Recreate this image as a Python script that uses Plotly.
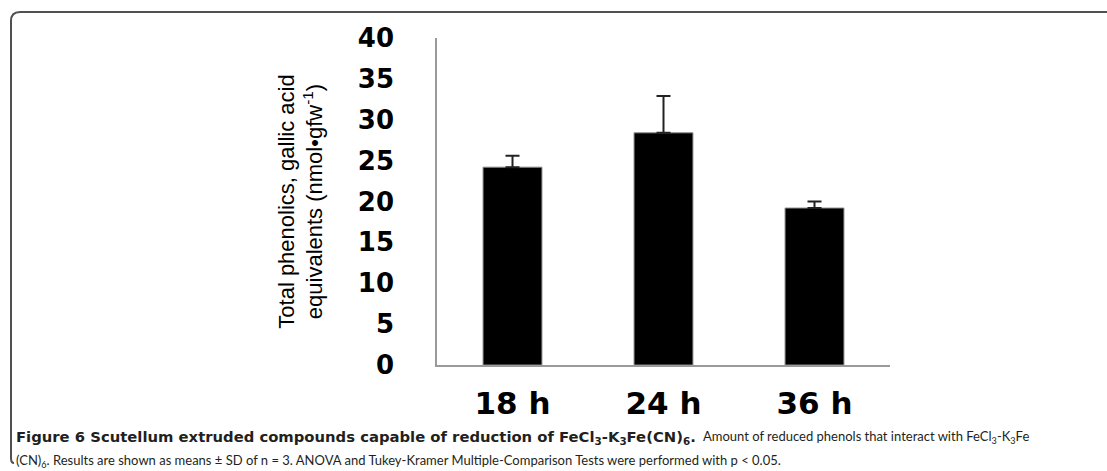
import plotly.graph_objects as go

# Total phenolics (gallic acid equivalents) at each extrusion time
times = ["18 h", "24 h", "36 h"]
phenolics = [24.2, 28.4, 19.2]
sd = [1.4, 4.5, 0.8]

W, H = 1107, 471
L, R, T, B = 437, 890, 38, 365  # plot area in pixels


def px(x):
    return (x - L) / (R - L)


def py(y):
    return (B - y) / (B - T)


fig = go.Figure(
    go.Bar(
        x=times,
        y=phenolics,
        width=0.39,
        marker=dict(color="black", line=dict(color="#8a8a8a", width=1)),
        error_y=dict(type="data", array=sd, symmetric=False, arrayminus=[0, 0, 0],
                     color="#222", thickness=2, width=7),
    )
)

# rounded figure frame on the left, open to the right
r = 9
frame = (
    f"M {px(1200)} {py(12)} L {px(11 + r)} {py(12)} "
    f"Q {px(11)} {py(12)} {px(11)} {py(12 + r)} "
    f"L {px(11)} {py(458)} Q {px(11)} {py(463)} {px(14)} {py(463)}"
)
fig.add_shape(type="path", path=frame, xref="paper", yref="paper",
              line=dict(color="#505050", width=2))

# caption: bold heading followed by regular text
bold_font = dict(family="DejaVu Sans", size=14.8, color="#231f20", weight="bold")
reg_font = dict(family="Lato, Open Sans, sans-serif", size=13, color="#231f20")


def caption(x, y, text, font):
    fig.add_annotation(x=px(x), y=py(y), xref="paper", yref="paper",
                       xanchor="left", yanchor="middle", showarrow=False,
                       align="left", font=font, text=text)


caption(14, 437, "Figure 6 Scutellum extruded compounds capable of reduction of "
                 "FeCl<sub>3</sub>-K<sub>3</sub>Fe(CN)<sub>6</sub>.", bold_font)
caption(701, 437, "Amount of reduced phenols that interact with "
                  "FeCl<sub>3</sub>-K<sub>3</sub>Fe", reg_font)
caption(14, 461, "(CN)<sub>6</sub>. Results are shown as means ± SD of n = 3. ANOVA and "
                 "Tukey-Kramer Multiple-Comparison Tests were performed with p &lt; 0.05.",
        reg_font)

fig.update_layout(
    width=W, height=H,
    margin=dict(l=L, r=W - R, t=T, b=H - B),
    paper_bgcolor="white", plot_bgcolor="white",
    showlegend=False,
    bargap=0.61,
)
fig.update_xaxes(
    showline=True, linecolor="#9a9a9a", linewidth=1.5, ticks="",
    ticklabelstandoff=10,
    tickfont=dict(family="DejaVu Sans", size=31, color="black", weight="bold"),
)
fig.update_yaxes(
    range=[0, 40], dtick=5, showgrid=False, zeroline=False,
    showline=True, linecolor="#9a9a9a", linewidth=1.5, ticks="",
    ticklabelstandoff=36,
    tickfont=dict(family="DejaVu Sans", size=26, color="black", weight="bold"),
    title=dict(
        text="Total phenolics, gallic acid<br>equivalents (nmol•gfw<sup>-1</sup>)",
        font=dict(family="Liberation Sans, Arial", size=22, color="black"),
        standoff=29,
    ),
)

fig.write_html("out.html")
